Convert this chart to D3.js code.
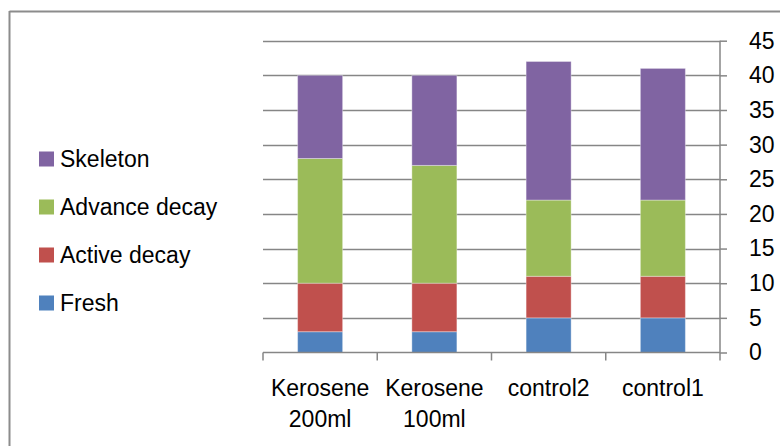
<!DOCTYPE html>
<html>
<head>
<meta charset="utf-8">
<script src="https://cdn.jsdelivr.net/npm/d3@7"></script>
<style>
  html, body { margin: 0; padding: 0; background: #fff; }
  svg { display: block; }
  text { font-family: "Liberation Sans", Arial, sans-serif; fill: #000; }
</style>
</head>
<body>
<svg id="chart" width="780" height="446"></svg>
<script>
// Decomposition stages per treatment (stacked, bottom to top)
const categories = [["Kerosene", "200ml"], ["Kerosene", "100ml"], ["control2"], ["control1"]];
const stages = ["Fresh", "Active decay", "Advance decay", "Skeleton"];
const fresh = [3, 3, 5, 5];
const activeDecay = [7, 7, 6, 6];
const advanceDecay = [18, 17, 11, 11];
const skeleton = [12, 13, 20, 19];
const yTicks = [0, 5, 10, 15, 20, 25, 30, 35, 40, 45];
const colors = ["#4F81BD", "#C0504D", "#9BBB59", "#8064A2"];

const seriesValues = [fresh, activeDecay, advanceDecay, skeleton];
const rows = categories.map((c, i) => {
  const r = { key: i };
  stages.forEach((s, j) => { r[s] = seriesValues[j][i]; });
  return r;
});
const stacked = d3.stack().keys(stages)(rows);

const svg = d3.select("#chart");
const FS = 23;

// outer frame
svg.append("line").attr("x1", 9.5).attr("x2", 780).attr("y1", 11.5).attr("y2", 11.5)
  .attr("stroke", "#8c8c8c").attr("stroke-width", 2);
svg.append("line").attr("x1", 9.5).attr("x2", 9.5).attr("y1", 11).attr("y2", 446)
  .attr("stroke", "#8c8c8c").attr("stroke-width", 2);

const plot = { left: 263, right: 720, top: 40.7, bottom: 352.5 };

const x = d3.scaleBand().domain(d3.range(categories.length))
  .range([plot.left, plot.right]).padding(0);
const y = d3.scaleLinear().domain([0, 45]).range([plot.bottom, plot.top]);
const barW = x.bandwidth() * 0.394;

// gridlines
svg.append("g").selectAll("line").data(yTicks.filter(t => t > 0)).join("line")
  .attr("x1", plot.left).attr("x2", plot.right)
  .attr("y1", d => Math.round(y(d)) + 0.5).attr("y2", d => Math.round(y(d)) + 0.5)
  .attr("stroke", "#868686").attr("stroke-width", 1.5);

// stacked bars
svg.append("g").selectAll("g").data(stacked).join("g")
  .attr("fill", (d, i) => colors[i])
  .selectAll("rect").data(d => d).join("rect")
  .attr("x", (d, i) => x(i) + x.bandwidth() / 2 - barW / 2)
  .attr("width", barW)
  .attr("y", d => y(d[1]))
  .attr("height", d => y(d[0]) - y(d[1]))
  .attr("stroke", "rgba(255,255,255,0.35)").attr("stroke-width", 1);

// right value axis
const yAxis = d3.axisRight(y).tickValues(yTicks).tickSize(7).tickPadding(22);
const ya = svg.append("g").attr("transform", `translate(${plot.right},0)`).call(yAxis);
ya.select(".domain").attr("stroke", "#868686").attr("stroke-width", 1.5)
  .attr("d", `M0,${y(45)}V${y(0)}`);
ya.selectAll(".tick line").attr("stroke", "#868686").attr("stroke-width", 1.5);
ya.selectAll(".tick text").attr("font-size", FS).attr("fill", "#000")
  .attr("font-family", "Liberation Sans, Arial, sans-serif");

// bottom category axis with ticks at band boundaries
const xa = svg.append("g");
xa.append("line").attr("x1", plot.left).attr("x2", plot.right)
  .attr("y1", plot.bottom).attr("y2", plot.bottom)
  .attr("stroke", "#868686").attr("stroke-width", 1.5);
const bounds = d3.range(categories.length).map(i => x(i)).concat([plot.right]);
xa.selectAll(".bt").data(bounds).join("line").attr("class", "bt")
  .attr("x1", d => d).attr("x2", d => d)
  .attr("y1", plot.bottom).attr("y2", plot.bottom + 8)
  .attr("stroke", "#868686").attr("stroke-width", 1.5);
xa.selectAll("text.cat").data(categories).join("text").attr("class", "cat")
  .attr("text-anchor", "middle").attr("font-size", FS)
  .attr("x", (d, i) => x(i) + x.bandwidth() / 2)
  .attr("y", 396)
  .each(function(lines) {
    const t = d3.select(this);
    lines.forEach((ln, k) => {
      t.append("tspan").attr("x", t.attr("x")).attr("dy", k === 0 ? 0 : 31).text(ln);
    });
  });

// legend (top entry is the top of the stack)
const legendItems = stages.slice().reverse();
const lg = svg.append("g").selectAll("g").data(legendItems).join("g")
  .attr("transform", (d, i) => `translate(39,${159 + i * 48})`);
lg.append("rect").attr("x", 0).attr("y", -7.5).attr("width", 15).attr("height", 15)
  .attr("fill", d => colors[stages.indexOf(d)]);
lg.append("text").attr("x", 21).attr("y", 0).attr("dy", "0.36em")
  .attr("font-size", FS).text(d => d);
</script>
</body>
</html>
